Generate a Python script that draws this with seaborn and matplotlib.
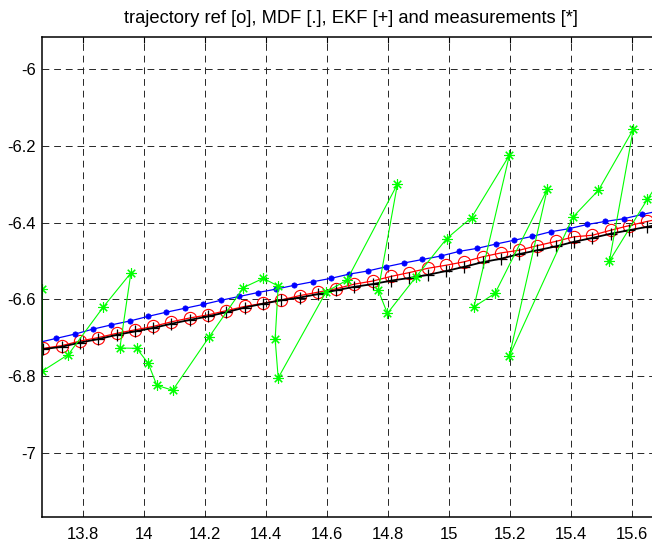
import numpy as np
import pandas as pd
import matplotlib
matplotlib.use("Agg")
import matplotlib.pyplot as plt
import seaborn as sns

# ---------------- data ----------------
title_text = "trajectory ref [o], MDF [.], EKF [+] and measurements [*]"

# reference trajectory (red circles) and EKF (black plus) share x positions
ref_x = [13.669, 13.729, 13.789, 13.849, 13.909, 13.969, 14.029, 14.089, 14.149,
         14.209, 14.269, 14.329, 14.389, 14.449, 14.509, 14.569, 14.629, 14.689,
         14.749, 14.809, 14.869, 14.929, 14.989, 15.049, 15.109, 15.169, 15.229,
         15.289, 15.349, 15.409, 15.469, 15.529, 15.589, 15.649, 15.709]
ref_y = [-6.727, -6.720, -6.708, -6.699, -6.688, -6.679, -6.670, -6.658, -6.648,
         -6.640, -6.629, -6.618, -6.610, -6.601, -6.590, -6.581, -6.572, -6.560,
         -6.552, -6.540, -6.530, -6.519, -6.511, -6.502, -6.489, -6.479, -6.472,
         -6.460, -6.449, -6.437, -6.433, -6.420, -6.408, -6.397, -6.387]
ekf_y = [-6.729, -6.723, -6.712, -6.703, -6.692, -6.683, -6.674, -6.663, -6.653,
         -6.644, -6.633, -6.621, -6.611, -6.602, -6.595, -6.586, -6.576, -6.567,
         -6.560, -6.551, -6.544, -6.536, -6.526, -6.515, -6.503, -6.494, -6.482,
         -6.472, -6.462, -6.450, -6.440, -6.429, -6.420, -6.411, -6.402]

# MDF estimate (blue dots)
mdf_x = [13.652, 13.712, 13.772, 13.832, 13.892, 13.952, 14.012, 14.072, 14.132,
         14.192, 14.252, 14.312, 14.372, 14.432, 14.492, 14.552, 14.612, 14.672,
         14.732, 14.792, 14.852, 14.912, 14.972, 15.032, 15.092, 15.152, 15.212,
         15.272, 15.332, 15.392, 15.452, 15.512, 15.572, 15.632, 15.692]
mdf_y = [-6.712, -6.701, -6.690, -6.677, -6.666, -6.656, -6.644, -6.633, -6.623,
         -6.613, -6.602, -6.592, -6.582, -6.573, -6.563, -6.554, -6.545, -6.534,
         -6.526, -6.515, -6.505, -6.496, -6.487, -6.475, -6.467, -6.456, -6.446,
         -6.436, -6.424, -6.416, -6.405, -6.397, -6.390, -6.379, -6.369]

# measurements (green asterisks), in time order
meas_x = [13.666, 13.666, 13.751, 13.866, 13.956, 13.920, 13.975, 14.013, 14.041,
          14.093, 14.213, 14.325, 14.390, 14.439, 14.429, 14.439, 14.596, 14.664,
          14.830, 14.767, 14.797, 14.891, 14.991, 15.073, 15.197, 15.081, 15.150,
          15.321, 15.197, 15.405, 15.489, 15.603, 15.525, 15.649, 15.757]
meas_y = [-6.574, -6.786, -6.743, -6.619, -6.531, -6.726, -6.727, -6.766, -6.823,
          -6.836, -6.697, -6.569, -6.545, -6.565, -6.703, -6.804, -6.580, -6.550,
          -6.300, -6.576, -6.636, -6.541, -6.442, -6.387, -6.225, -6.619, -6.584,
          -6.314, -6.747, -6.386, -6.316, -6.158, -6.500, -6.340, -6.212]

x_ticks = [13.8, 14.0, 14.2, 14.4, 14.6, 14.8, 15.0, 15.2, 15.4, 15.6]
x_tick_labels = ["13.8", "14", "14.2", "14.4", "14.6", "14.8", "15", "15.2", "15.4", "15.6"]
y_ticks = [-7.0, -6.8, -6.6, -6.4, -6.2, -6.0]
y_tick_labels = ["-7", "-6.8", "-6.6", "-6.4", "-6.2", "-6"]

# ---------------- style ----------------
sns.set_theme(style="white")
plt.rcParams["font.family"] = ["Liberation Sans", "DejaVu Sans"]
plt.rcParams["axes.edgecolor"] = "black"
plt.rcParams["axes.linewidth"] = 1.0

fig = plt.figure(figsize=(6.52, 5.45), dpi=100)
ax = fig.add_axes([0.06488, 0.05083, 0.94739, 0.88073])

ref_df = pd.DataFrame({"x": ref_x, "y": ref_y})
ekf_df = pd.DataFrame({"x": ref_x, "y": ekf_y})
mdf_df = pd.DataFrame({"x": mdf_x, "y": mdf_y})
meas_df = pd.DataFrame({"x": meas_x, "y": meas_y})

sns.lineplot(data=ref_df, x="x", y="y", ax=ax, sort=False, estimator=None,
             color="#ff0000", linewidth=0.9, marker="o", markersize=8.8,
             markerfacecolor="none", markeredgecolor="#ff0000",
             markeredgewidth=0.8, zorder=3)
sns.lineplot(data=mdf_df, x="x", y="y", ax=ax, sort=False, estimator=None,
             color="#0000ff", linewidth=0.9, marker="o", markersize=3.8,
             markerfacecolor="#0000ff", markeredgecolor="#0000ff",
             markeredgewidth=0.5, zorder=4)
sns.lineplot(data=ekf_df, x="x", y="y", ax=ax, sort=False, estimator=None,
             color="black", linewidth=1.3, marker="+", markersize=8.5,
             markeredgecolor="black", markeredgewidth=0.9, zorder=5)
sns.lineplot(data=meas_df, x="x", y="y", ax=ax, sort=False, estimator=None,
             color="#00ff00", linewidth=0.8, marker=(8, 2, 0), markersize=7.5,
             markeredgecolor="#00ff00", markeredgewidth=0.8, zorder=6)

ax.set_xlim(13.6656, 15.6908)
ax.set_ylim(-7.1662, -5.9184)
ax.set_xticks(x_ticks)
ax.set_xticklabels(x_tick_labels)
ax.set_yticks(y_ticks)
ax.set_yticklabels(y_tick_labels)
ax.set_xlabel("")
ax.set_ylabel("")

ax.grid(True, color="0.15", linestyle=(0, (7, 5)), linewidth=0.7)
ax.set_axisbelow(True)
ax.tick_params(axis="both", which="both", direction="in", length=4.5, width=0.8,
               color="black", labelsize=12, labelcolor="black",
               top=True, right=True)
ax.tick_params(axis="x", pad=7)
ax.tick_params(axis="y", pad=4.8)
for s in ax.spines.values():
    s.set_visible(True)
    s.set_color("black")
    s.set_linewidth(1.1)
    s.set_zorder(10)

ax.set_title(title_text, fontsize=13.2, color="black", pad=10)

fig.savefig("out.png", dpi=100, facecolor="white")
